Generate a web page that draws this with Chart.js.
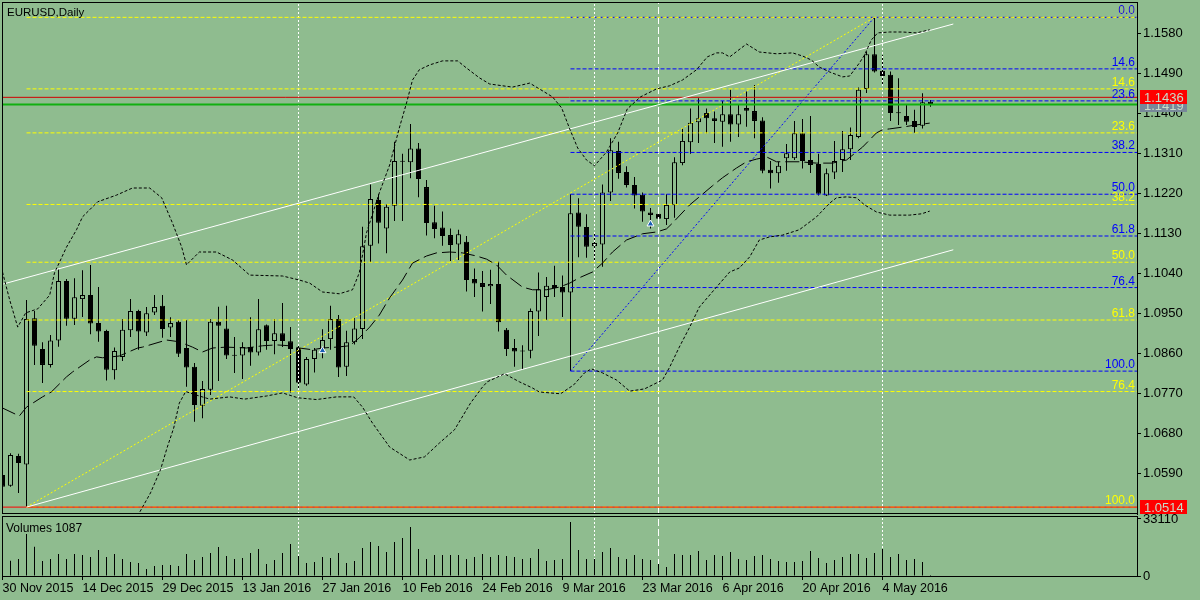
<!DOCTYPE html>
<html>
<head>
<meta charset="utf-8">
<script src="https://cdn.jsdelivr.net/npm/chart.js@4.4.1/dist/chart.umd.min.js"></script>
<style>
  html, body { margin: 0; padding: 0; background: #8fbc8f; }
  #wrap { position: relative; width: 1200px; height: 600px; overflow: hidden; }
  canvas { position: absolute; left: 0; }
</style>
</head>
<body>
<div id="wrap">
  <canvas id="price" width="1200" height="516" style="top:0"></canvas>
  <canvas id="vol" width="1200" height="86" style="top:514px"></canvas>
</div>
<script>
// EURUSD daily, 30 Nov 2015 .. 12 May 2016 (bar index 0..116)
const symbolTitle = "EURUSD,Daily";
const volumeTitle = "Volumes 1087";

const dateLabels = ["30 Nov 2015", "14 Dec 2015", "29 Dec 2015", "13 Jan 2016", "27 Jan 2016", "10 Feb 2016",
  "24 Feb 2016", "9 Mar 2016", "23 Mar 2016", "6 Apr 2016", "20 Apr 2016", "4 May 2016"];
const dateLabelBars = [0, 10, 20, 30, 40, 50, 60, 70, 80, 90, 100, 110];

const priceTicks = [1.1580, 1.1490, 1.1400, 1.1310, 1.1220, 1.1130, 1.1040, 1.0950, 1.0860, 1.0770, 1.0680, 1.0590];
const volumeTicks = [0, 33110];

const open = [
  1.0586, 1.0562, 1.0629, 1.0610, 1.0939, 1.0870, 1.0834, 1.0889, 1.1023, 1.0938,
  1.0982, 1.0991, 1.0928, 1.0910, 1.0822, 1.0852, 1.0912, 1.0955, 1.0907, 1.0952,
  1.0967, 1.0918, 1.0931, 1.0872, 1.0830, 1.0742, 1.0778, 1.0931, 1.0916, 1.0856,
  1.0855, 1.0874, 1.0862, 1.0923, 1.0888, 1.0905, 1.0887, 1.0872, 1.0790, 1.0847,
  1.0871, 1.0892, 1.0937, 1.0830, 1.0885, 1.0915, 1.1102, 1.1205, 1.1141, 1.1192,
  1.1293, 1.1290, 1.1321, 1.1234, 1.1155, 1.1143, 1.1126, 1.1105, 1.1111, 1.1027,
  1.1018, 1.1011, 1.1016, 1.0913, 1.0872, 1.0866, 1.0866, 1.0954, 1.0987, 1.1014,
  1.1009, 1.0997, 1.1177, 1.1144, 1.1101, 1.1105, 1.1222, 1.1315, 1.1268, 1.1239,
  1.1217, 1.1177, 1.1174, 1.1162, 1.1193, 1.1288, 1.1335, 1.1380, 1.1401, 1.1389,
  1.1381, 1.1398, 1.1375, 1.1412, 1.1405, 1.1384, 1.1273, 1.1265, 1.1299, 1.1299,
  1.1355, 1.1295, 1.1286, 1.1215, 1.1267, 1.1295, 1.1319, 1.1347, 1.1455, 1.1533,
  1.1496, 1.1487, 1.1402, 1.1394, 1.1383, 1.1372, 1.1426];
const high = [
  1.0598, 1.0635, 1.0634, 1.0980, 1.0955, 1.0885, 1.0901, 1.1049, 1.1027, 1.1029,
  1.1047, 1.1059, 1.1009, 1.0913, 1.0873, 1.0937, 1.0982, 1.0958, 1.0964, 1.0991,
  1.0991, 1.0941, 1.0935, 1.0935, 1.0838, 1.0798, 1.0937, 1.0965, 1.0967, 1.0897,
  1.0885, 1.0941, 1.0982, 1.0925, 1.0937, 1.0973, 1.0919, 1.0877, 1.0852, 1.0872,
  1.0914, 1.0967, 1.0946, 1.0911, 1.0939, 1.1145, 1.1240, 1.1218, 1.1196, 1.1336,
  1.1309, 1.1376, 1.1333, 1.1250, 1.1192, 1.1179, 1.1141, 1.1138, 1.1124, 1.1051,
  1.1045, 1.1048, 1.1066, 1.0917, 1.0892, 1.0878, 1.0961, 1.1042, 1.1032, 1.1057,
  1.1035, 1.1218, 1.1209, 1.1173, 1.1130, 1.1240, 1.1344, 1.1336, 1.1281, 1.1257,
  1.1222, 1.1187, 1.1180, 1.1218, 1.1301, 1.1366, 1.1411, 1.1434, 1.1411, 1.1404,
  1.1428, 1.1453, 1.1419, 1.1449, 1.1464, 1.1391, 1.1293, 1.1291, 1.1331, 1.1383,
  1.1387, 1.1394, 1.1309, 1.1276, 1.1338, 1.1360, 1.1368, 1.1458, 1.1539, 1.1616,
  1.1531, 1.1494, 1.1479, 1.1419, 1.1408, 1.1445, 1.1430];
const low = [
  1.0553, 1.0560, 1.0546, 1.0514, 1.0834, 1.0793, 1.0828, 1.0875, 1.0922, 1.0924,
  1.0942, 1.0903, 1.0886, 1.0799, 1.0801, 1.0843, 1.0897, 1.0868, 1.0899, 1.0946,
  1.0895, 1.0897, 1.0852, 1.0785, 1.0706, 1.0714, 1.0766, 1.0798, 1.0847, 1.0816,
  1.0802, 1.0832, 1.0855, 1.0868, 1.0858, 1.0874, 1.0772, 1.0778, 1.0787, 1.0817,
  1.0849, 1.0868, 1.0807, 1.0809, 1.0880, 1.0892, 1.1065, 1.1107, 1.1085, 1.1158,
  1.1158, 1.1254, 1.1211, 1.1125, 1.1119, 1.1102, 1.1068, 1.1070, 1.0999, 1.0987,
  1.0954, 1.0971, 1.0909, 1.0854, 1.0830, 1.0823, 1.0849, 1.0899, 1.0935, 1.0987,
  1.0942, 1.0820, 1.1076, 1.1075, 1.1066, 1.1055, 1.1203, 1.1253, 1.1233, 1.1186,
  1.1156, 1.1141, 1.1153, 1.1149, 1.1165, 1.1283, 1.1309, 1.1333, 1.1355, 1.1333,
  1.1325, 1.1336, 1.1347, 1.1370, 1.1344, 1.1265, 1.1231, 1.1244, 1.1271, 1.1295,
  1.1276, 1.1266, 1.1215, 1.1214, 1.1252, 1.1268, 1.1295, 1.1344, 1.1446, 1.1492,
  1.1464, 1.1383, 1.1374, 1.1374, 1.1356, 1.1366, 1.1415];
const close = [
  1.0560, 1.0631, 1.0613, 1.0937, 1.0877, 1.0834, 1.0889, 1.1023, 1.0938, 1.0986,
  1.0991, 1.0927, 1.0909, 1.0823, 1.0865, 1.0913, 1.0955, 1.0909, 1.0950, 1.0964,
  1.0915, 1.0928, 1.0859, 1.0828, 1.0744, 1.0780, 1.0931, 1.0922, 1.0855, 1.0855,
  1.0874, 1.0862, 1.0914, 1.0888, 1.0905, 1.0888, 1.0870, 1.0794, 1.0847, 1.0868,
  1.0890, 1.0937, 1.0828, 1.0885, 1.0916, 1.1101, 1.1207, 1.1154, 1.1190, 1.1293,
  1.1291, 1.1321, 1.1252, 1.1153, 1.1140, 1.1124, 1.1104, 1.1128, 1.1025, 1.1017,
  1.1009, 1.1016, 1.0930, 1.0870, 1.0864, 1.0865, 1.0955, 1.1004, 1.1012, 1.1007,
  1.0997, 1.1175, 1.1145, 1.1100, 1.1108, 1.1222, 1.1317, 1.1266, 1.1239, 1.1215,
  1.1179, 1.1171, 1.1163, 1.1194, 1.1290, 1.1338, 1.1379, 1.1389, 1.1389, 1.1383,
  1.1398, 1.1375, 1.1398, 1.1406, 1.1383, 1.1271, 1.1265, 1.1282, 1.1310, 1.1355,
  1.1293, 1.1284, 1.1219, 1.1265, 1.1293, 1.1319, 1.1351, 1.1453, 1.1533, 1.1494,
  1.1484, 1.1401, 1.1401, 1.1381, 1.1369, 1.1425, 1.1419];
const volume = [
  9000, 8900, 9880, 24400, 17040, 8710, 9880, 12780, 9880, 12780,
  12200, 11040, 15100, 11040, 12780, 9880, 8130, 7550, 4070, 5810,
  6390, 6390, 5810, 12780, 9290, 11040, 13360, 16850, 11620, 9880,
  10460, 13360, 15680, 6970, 9290, 13360, 18590, 11620, 7550, 8130,
  11040, 10460, 13360, 7550, 8710, 16270, 19750, 17430, 13940, 19750,
  22070, 28460, 15680, 9880, 12200, 12200, 12200, 12200, 9880, 11040,
  12780, 11040, 12200, 11620, 11040, 9880, 10460, 15680, 8710, 9290,
  9880, 31370, 15100, 9880, 9880, 13940, 16270, 11040, 9880, 12200,
  9880, 9290, 6970, 5230, 12780, 12200, 12200, 14520, 9290, 12200,
  11620, 13940, 9880, 9290, 11620, 12200, 9880, 8710, 8130, 8130,
  8710, 14520, 10460, 7550, 9290, 11040, 12780, 12780, 10460, 13360,
  15680, 11040, 12780, 9290, 9880, 8130, 580];

// Bollinger bands as [bar, price]
const bbUpper = [[0, 1.1043], [0.9, 1.0980], [1.9, 1.0919], [2.9, 1.0951], [4.4, 1.0960], [5.9, 1.0991], [6.5, 1.1041],
  [8, 1.1099], [9.25, 1.1138], [10, 1.1167], [11.9, 1.1201], [14.25, 1.1216], [16.25, 1.1232], [18.4, 1.1232],
  [19.9, 1.1210], [21.25, 1.1153], [22.4, 1.1099], [23, 1.1059], [24.6, 1.1088], [26.75, 1.1088], [28.75, 1.1070],
  [30.9, 1.1036], [35, 1.1034], [37.1, 1.1025], [38.4, 1.1018], [40, 1.0998], [42.1, 1.0994], [43.75, 1.1003],
  [44.6, 1.1041], [45.5, 1.1131], [47.1, 1.1221], [48.4, 1.1284], [49.6, 1.1367], [50.5, 1.1423], [51.25, 1.1475],
  [52.1, 1.1498], [53.4, 1.1509], [55, 1.1518], [56.9, 1.1518], [58, 1.1502], [59.6, 1.1480], [60.9, 1.1466],
  [62.5, 1.1462], [63.75, 1.1459], [65.9, 1.1468], [67.1, 1.1455], [68.75, 1.1437], [69.9, 1.1412], [70.9, 1.1365],
  [71.9, 1.1322], [73, 1.1295], [74, 1.1282], [75.5, 1.1313], [76.9, 1.1356], [78.1, 1.1410], [79.75, 1.1437],
  [81.75, 1.1455], [83.4, 1.1462], [85, 1.1475], [86.75, 1.1498], [88.1, 1.1527], [89.25, 1.1536], [90, 1.1536],
  [90.9, 1.1527], [93, 1.1556], [94.6, 1.1538], [96.75, 1.1534], [98.75, 1.1536], [100, 1.1529], [101.1, 1.1520],
  [102.1, 1.1504], [103.4, 1.1493], [105, 1.1482], [105.9, 1.1484], [107.1, 1.1513], [107.75, 1.1531],
  [108.6, 1.1565], [109.4, 1.1581], [110.9, 1.1583], [112.5, 1.1583], [114.25, 1.1581], [115.9, 1.1588]];
const bbMiddle = [[0, 1.0737], [2.1, 1.0719], [3, 1.0739], [5, 1.0762], [6.1, 1.0773], [8, 1.0807], [8.75, 1.0818],
  [10.9, 1.0845], [11.75, 1.0852], [12.5, 1.0850], [14.6, 1.0854], [16.9, 1.0872], [17.5, 1.0874], [20.5, 1.0890],
  [22.1, 1.0886], [23.75, 1.0874], [25, 1.0863], [26.25, 1.0872], [28, 1.0874], [30.5, 1.0872], [32.5, 1.0877],
  [34.25, 1.0879], [35.9, 1.0877], [37.1, 1.0872], [38.75, 1.0868], [40, 1.0872], [41.75, 1.0874], [43.4, 1.0877],
  [44.6, 1.0895], [45.9, 1.0919], [47.1, 1.0946], [48.4, 1.0985], [50, 1.1025], [51.25, 1.1063], [53, 1.1079],
  [54.25, 1.1086], [55.9, 1.1088], [57.5, 1.1086], [59.25, 1.1079], [60.5, 1.1072], [61.75, 1.1059], [63, 1.1036],
  [65, 1.1009], [66.25, 1.1003], [68, 1.1003], [69.6, 1.1009], [70.9, 1.1018], [72.1, 1.1030], [73.75, 1.1043],
  [75, 1.1063], [76.25, 1.1088], [78, 1.1115], [80, 1.1129], [81.75, 1.1133], [83, 1.1140], [83.75, 1.1153],
  [85.9, 1.1194], [87.1, 1.1212], [88.75, 1.1237], [90, 1.1255], [91.75, 1.1277], [93, 1.1291], [94.25, 1.1297],
  [95.5, 1.1302], [96.75, 1.1291], [99.6, 1.1291], [101.75, 1.1288], [103.75, 1.1288], [105.5, 1.1295],
  [107.5, 1.1324], [109.25, 1.1356], [110, 1.1363], [110.9, 1.1365], [112.5, 1.1369], [114.25, 1.1374], [115.9, 1.1378]];
const bbLower = [[15.9, 1.0440], [17.1, 1.0501], [18.5, 1.0546], [19.75, 1.0598], [20.6, 1.0649], [21.4, 1.0692],
  [22.1, 1.0748], [22.9, 1.0774], [24.6, 1.0764], [25.9, 1.0757], [28.4, 1.0762], [30.25, 1.0757], [33, 1.0764],
  [35, 1.0771], [36.9, 1.0760], [39.25, 1.0756], [41.75, 1.0762], [43.9, 1.0762], [45, 1.0739], [46.25, 1.0703],
  [48.4, 1.0649], [50.9, 1.0620], [52.75, 1.0627], [54.6, 1.0658], [56.5, 1.0688], [58.5, 1.0748], [59.9, 1.0782],
  [60.6, 1.0796], [62.75, 1.0814], [64.6, 1.0796], [66.25, 1.0782], [67.1, 1.0773], [69.75, 1.0769], [71.4, 1.0789],
  [72.75, 1.0816], [73.6, 1.0825], [75, 1.0816], [76.75, 1.0800], [78.4, 1.0775], [80.25, 1.0780], [82.5, 1.0800],
  [83.4, 1.0829], [84.6, 1.0874], [85.9, 1.0919], [87.1, 1.0964], [89.25, 1.1009], [90.9, 1.1043], [92.1, 1.1052],
  [93.4, 1.1077], [94.6, 1.1115], [95.9, 1.1122], [97.5, 1.1126], [99.6, 1.1138], [101.75, 1.1167], [103.4, 1.1198],
  [104.25, 1.1210], [105.5, 1.1212], [106.75, 1.1210], [107.75, 1.1194], [109.25, 1.1178], [110.9, 1.1171],
  [113.4, 1.1171], [114.9, 1.1174], [115.9, 1.1180]];

// drawn objects
const channelUpper = [[0.1, 1.1016], [118.85, 1.1601]];
const channelLower = [[3, 1.0514], [118.85, 1.1093]];
const fibYellowAnchor = [[3, 1.0514], [109, 1.1616]];
const fibBlueAnchor = [[71, 1.0820], [109, 1.1616]];
const fibLevels = ["0.0", "14.6", "23.6", "38.2", "50.0", "61.8", "76.4", "100.0"];
const fibYellowPrices = [1.1616, 1.1455, 1.1356, 1.1195, 1.1065, 1.0935, 1.0774, 1.0514];
const fibBluePrices = [1.1616, 1.1500, 1.1428, 1.1312, 1.1218, 1.1124, 1.1008, 1.0820];
const vLineBars = [37, 74, 82, 110];
const redLevel = 1.1436;
const greenLevel = 1.1420;
const lastBid = 1.1419;
const bottomLevel = 1.0514;
const buyArrows = [[40, 1.0866], [81, 1.1151]];

const bg = "#8fbc8f";
const family = "'Liberation Sans', Arial, sans-serif";
const xMin = -0.0625, xMax = 141.8125;
const priceMin = 1.04985, priceMax = 1.16505;
const volMax = 34850;

function line(points, color, dash, width, order) {
  return {
    type: "line",
    data: points.map(([x, y]) => ({ x, y })),
    borderColor: color,
    borderWidth: width || 1,
    borderDash: dash || [],
    pointRadius: 0,
    tension: 0,
    fill: false,
    order: order === undefined ? 1 : order,
  };
}

function body(i) {
  const o = open[i], c = close[i];
  if (Math.abs(o - c) < 0.00025) {
    const m = (o + c) / 2;
    return [m - 0.00011, m + 0.00011];
  }
  return [o, c];
}

function fitY(scale) {
  scale.width = 63;
  scale.paddingTop = 0;
  scale.paddingBottom = 0;
}

const bars = open.map((_, i) => i);

// ---- price panel
const priceSets = [
  {
    type: "bar",
    data: bars.map((i) => ({ x: i, y: [low[i], high[i]] })),
    backgroundColor: "#000",
    barThickness: 1,
    grouped: false,
    inflateAmount: 0,
    order: 6,
  },
  {
    type: "bar",
    data: bars.map((i) => ({ x: i, y: body(i) })),
    backgroundColor: (ctx) => {
      const i = ctx.dataIndex;
      if (Math.abs(open[i] - close[i]) < 0.00025) return "#000";
      return close[i] > open[i] ? bg : "#000";
    },
    borderColor: "#000",
    borderWidth: 1,
    borderSkipped: false,
    barThickness: 5,
    grouped: false,
    inflateAmount: 0,
    order: 5,
  },
  line(bbUpper, "#000", [3, 2]),
  line(bbLower, "#000", [3, 2]),
  line(bbMiddle, "#000", [14, 5]),
  line(channelUpper, "#fff"),
  line(channelLower, "#fff"),
  line([[xMin, redLevel], [xMax, redLevel]], "#d00000"),
  line([[xMin, greenLevel], [xMax, greenLevel]], "#10b010", [], 2),
  line([[xMin, bottomLevel], [xMax, bottomLevel]], "#ff0000"),
];
fibYellowPrices.forEach((p) => priceSets.push(line([[fibYellowAnchor[0][0], p], [xMax, p]], "#ffff00", [4, 2])));
fibBluePrices.forEach((p) => priceSets.push(line([[fibBlueAnchor[0][0], p], [xMax, p]], "#0000ff", [4, 2])));
priceSets.push(line(fibYellowAnchor, "#ffff00", [2, 2]));
priceSets.push(line(fibBlueAnchor, "#0000ff", [2, 2]));
vLineBars.forEach((b) => priceSets.push(line([[b, priceMin], [b, priceMax]], "#fff", b === 82 ? [7, 3] : [2, 2])));
priceSets.push({
  type: "line",
  data: buyArrows.map(([x, y]) => ({ x, y })),
  showLine: false,
  pointStyle: "triangle",
  pointRadius: 4,
  pointBackgroundColor: "#1a5fb4",
  pointBorderColor: "#fff",
  pointBorderWidth: 1,
  order: 0,
});

function priceBox(ctx, y, text, fill) {
  ctx.fillStyle = fill;
  ctx.fillRect(1140, Math.round(y) - 7, 47, 14);
  ctx.fillStyle = "#c8dcc8";
  ctx.font = "13px " + family;
  ctx.textAlign = "left";
  ctx.textBaseline = "alphabetic";
  ctx.fillText(text, 1144, Math.round(y) + 5);
}

const pricePanel = {
  id: "pricePanel",
  afterDatasetsDraw(chart) {
    const { ctx, scales } = chart;
    const right = scales.x.getPixelForValue(xMax) - 2;
    ctx.save();
    ctx.font = "12px " + family;
    ctx.textAlign = "right";
    ctx.textBaseline = "alphabetic";
    fibLevels.forEach((t, k) => {
      ctx.fillStyle = "#ffff00";
      ctx.fillText(t, right, scales.y.getPixelForValue(fibYellowPrices[k]) - 3);
    });
    fibLevels.forEach((t, k) => {
      ctx.fillStyle = "#0000ff";
      ctx.fillText(t, right, scales.y.getPixelForValue(fibBluePrices[k]) - 3);
    });
    ctx.fillStyle = "#000";
    ctx.textAlign = "left";
    ctx.font = "11.5px " + family;
    ctx.fillText(symbolTitle, 7, 16);
    ctx.restore();
  },
  afterDraw(chart) {
    const { ctx, chartArea: a, scales } = chart;
    ctx.save();
    ctx.strokeStyle = "#000";
    ctx.lineWidth = 1;
    ctx.strokeRect(a.left + 0.5, a.top + 0.5, a.width, a.height - 1);
    priceBox(ctx, scales.y.getPixelForValue(lastBid), lastBid.toFixed(4), "#778899");
    priceBox(ctx, scales.y.getPixelForValue(redLevel), redLevel.toFixed(4), "#ff0000");
    priceBox(ctx, scales.y.getPixelForValue(bottomLevel), bottomLevel.toFixed(4), "#ff0000");
    ctx.restore();
  },
};

new Chart(document.getElementById("price"), {
  type: "bar",
  data: { datasets: priceSets },
  options: {
    responsive: false,
    animation: false,
    devicePixelRatio: 1,
    layout: { autoPadding: false, padding: { left: 2, top: 2, right: 0, bottom: 2 } },
    plugins: { legend: { display: false }, tooltip: { enabled: false } },
    scales: {
      x: { type: "linear", min: xMin, max: xMax, bounds: "data", offset: false, display: false },
      y: {
        type: "linear",
        position: "right",
        min: priceMin,
        max: priceMax,
        bounds: "data",
        afterBuildTicks: (s) => { s.ticks = priceTicks.map((v) => ({ value: v })); },
        afterFit: fitY,
        ticks: { callback: (v) => Number(v).toFixed(4), color: "#000", font: { family, size: 13 }, padding: 2, autoSkip: false },
        grid: { drawOnChartArea: false, tickLength: 4, color: "#000" },
        border: { color: "#000" },
      },
    },
  },
  plugins: [pricePanel],
});

// ---- volume panel
const volSets = [
  {
    type: "bar",
    data: bars.map((i) => ({ x: i, y: volume[i] })),
    backgroundColor: "#000",
    barThickness: 1,
    grouped: false,
    inflateAmount: 0,
    order: 5,
  },
];
vLineBars.forEach((b) => volSets.push(line([[b, 0], [b, volMax]], "#fff", b === 82 ? [7, 3] : [2, 2], 1, 6)));

const volPanel = {
  id: "volPanel",
  afterDraw(chart) {
    const { ctx, chartArea: a } = chart;
    ctx.save();
    ctx.strokeStyle = "#000";
    ctx.lineWidth = 1;
    ctx.strokeRect(a.left + 0.5, a.top + 0.5, a.width, a.height);
    ctx.fillStyle = "#000";
    ctx.font = "12px " + family;
    ctx.textAlign = "left";
    ctx.textBaseline = "alphabetic";
    ctx.fillText(volumeTitle, 6, 18);
    ctx.restore();
  },
};

new Chart(document.getElementById("vol"), {
  type: "bar",
  data: { datasets: volSets },
  options: {
    responsive: false,
    animation: false,
    devicePixelRatio: 1,
    layout: { autoPadding: false, padding: { left: 2, top: 2, right: 0, bottom: 0 } },
    plugins: { legend: { display: false }, tooltip: { enabled: false } },
    scales: {
      x: {
        type: "linear",
        min: xMin,
        max: xMax,
        bounds: "data",
        offset: false,
        afterBuildTicks: (s) => { s.ticks = dateLabelBars.map((v) => ({ value: v })); },
        afterFit: (s) => { s.height = 24; s.paddingLeft = 0; s.paddingRight = 0; },
        ticks: {
          callback: (v) => { const k = dateLabelBars.indexOf(v); return k >= 0 ? dateLabels[k] : ""; },
          align: "start",
          autoSkip: false,
          maxRotation: 0,
          minRotation: 0,
          padding: 1,
          color: "#000",
          font: { family, size: 12.5 },
        },
        grid: { drawOnChartArea: false, tickLength: 4, color: "#000", offset: false },
        border: { color: "#000" },
      },
      y: {
        type: "linear",
        position: "right",
        min: 0,
        max: volMax,
        bounds: "data",
        afterBuildTicks: (s) => { s.ticks = volumeTicks.map((v) => ({ value: v })); },
        afterFit: fitY,
        ticks: { callback: (v) => String(v), color: "#000", font: { family, size: 13 }, padding: 2, autoSkip: false },
        grid: { drawOnChartArea: false, tickLength: 4, color: "#000" },
        border: { color: "#000" },
      },
    },
  },
  plugins: [volPanel],
});
</script>
</body>
</html>
